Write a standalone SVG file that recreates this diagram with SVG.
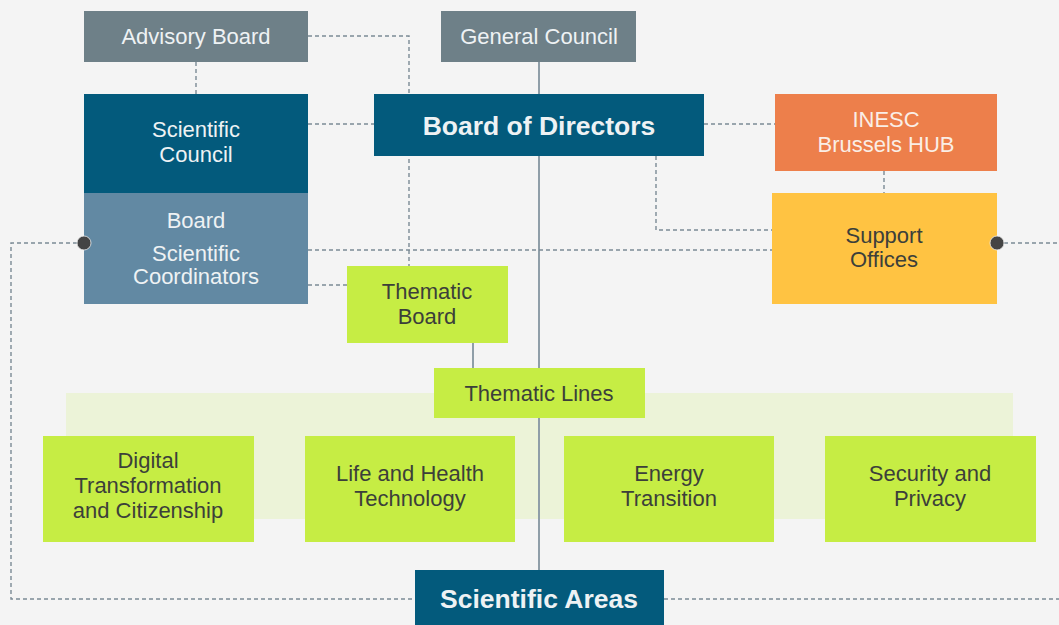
<svg xmlns="http://www.w3.org/2000/svg" width="1059" height="625" viewBox="0 0 1059 625">
<style>
.t{font-family:"Liberation Sans",Arial,sans-serif;font-size:22px;text-anchor:middle}
.b{font-weight:bold;font-size:26.5px}
.w{fill:#eef2f4}
.d{fill:#3c3f3a}
.dash{fill:none;stroke:#7b8a95;stroke-width:1.4;stroke-dasharray:4 3}
.solid{fill:none;stroke:#8f9ea8;stroke-width:2}
.gray{fill:#6e8088}
.navy{fill:#035a7c}
.steel{fill:#6289a3}
.lime{fill:#c6ed44}
.dot{fill:#444;stroke:#eee;stroke-width:0.8}
</style>
<rect width="1059" height="625" fill="#f4f4f4"/>
<rect id="band" x="66" y="393" width="947" height="126" fill="#ecf3d8"/>
<g id="connectors">
<path class="solid" d="M539 62V570"/>
<path class="solid" d="M473 343V368"/>
<path class="dash" d="M308 36H409V266"/>
<path class="dash" d="M196 62V94"/>
<path class="dash" d="M308 124H374"/>
<path class="dash" d="M704 124H775"/>
<path class="dash" d="M884 171V193"/>
<path class="dash" d="M656 156V230H772"/>
<path class="dash" d="M308 250H772"/>
<path class="dash" d="M308 285H347"/>
<path class="dash" d="M84 243H11V599H415"/>
<path class="dash" d="M997 243H1059"/>
<path class="dash" d="M664 599H1059"/>
</g>
<g id="advisory-board"><rect class="gray" x="84" y="11" width="224" height="51"/><text class="t w" x="196" y="44">Advisory Board</text></g>
<g id="general-council"><rect class="gray" x="441" y="11" width="195" height="51"/><text class="t w" x="539" y="44">General Council</text></g>
<g id="scientific-council"><rect class="navy" x="84" y="94" width="224" height="99"/><text class="t w" x="196" y="137">Scientific</text><text class="t w" x="196" y="162">Council</text></g>
<g id="board-scientific-coordinators"><rect class="steel" x="84" y="193" width="224" height="111"/><text class="t w" x="196" y="228">Board</text><text class="t w" x="196" y="261">Scientific</text><text class="t w" x="196" y="284">Coordinators</text></g>
<g id="board-of-directors"><rect class="navy" x="374" y="94" width="330" height="62"/><text class="t b w" x="539" y="135">Board of Directors</text></g>
<g id="inesc-brussels-hub"><rect fill="#ed7f4b" x="775" y="94" width="222" height="77"/><text class="t" fill="#faeee6" x="886" y="127">INESC</text><text class="t" fill="#faeee6" x="886" y="152">Brussels HUB</text></g>
<g id="support-offices"><rect fill="#ffc342" x="772" y="193" width="225" height="111"/><text class="t d" x="884" y="243">Support</text><text class="t d" x="884" y="267">Offices</text></g>
<g id="thematic-board"><rect class="lime" x="347" y="266" width="161" height="77"/><text class="t d" x="427" y="299">Thematic</text><text class="t d" x="427" y="324">Board</text></g>
<g id="thematic-lines"><rect class="lime" x="434" y="368" width="211" height="50"/><text class="t d" x="539" y="401">Thematic Lines</text></g>
<g id="digital-transformation"><rect class="lime" x="43" y="436" width="211" height="106"/><text class="t d" x="148" y="468">Digital</text><text class="t d" x="148" y="493">Transformation</text><text class="t d" x="148" y="518">and Citizenship</text></g>
<g id="life-health"><rect class="lime" x="305" y="436" width="210" height="106"/><text class="t d" x="410" y="481">Life and Health</text><text class="t d" x="410" y="506">Technology</text></g>
<g id="energy-transition"><rect class="lime" x="564" y="436" width="210" height="106"/><text class="t d" x="669" y="481">Energy</text><text class="t d" x="669" y="506">Transition</text></g>
<g id="security-privacy"><rect class="lime" x="825" y="436" width="211" height="106"/><text class="t d" x="930" y="481">Security and</text><text class="t d" x="930" y="506">Privacy</text></g>
<g id="scientific-areas"><rect class="navy" x="415" y="570" width="249" height="55"/><text class="t b w" x="539" y="608">Scientific Areas</text></g>
<g id="dots"><circle class="dot" cx="84" cy="243" r="7"/><circle class="dot" cx="997" cy="243" r="7"/></g>
</svg>
